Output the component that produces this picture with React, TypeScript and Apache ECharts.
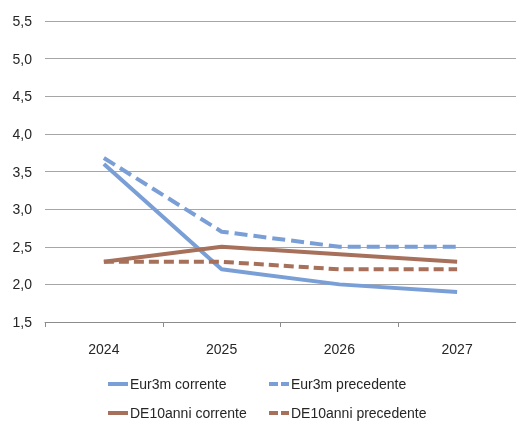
import React, { useEffect, useRef } from "react";
import * as echarts from "echarts";

const categories = ["2024", "2025", "2026", "2027"];
const eur3mCorrente = [3.6, 2.2, 2.0, 1.9];
const eur3mPrecedente = [3.68, 2.7, 2.5, 2.5];
const de10Corrente = [2.3, 2.5, 2.4, 2.3];
const de10Precedente = [2.3, 2.3, 2.2, 2.2];
const seriesNames = ["Eur3m corrente", "Eur3m precedente", "DE10anni corrente", "DE10anni precedente"];

const BLUE = "#7a9fd6";
const BROWN = "#a6705b";
const FONT = "'Liberation Sans', Arial, sans-serif";
const SOLID_ICON = "path://M0,0h20v4h-20z";
const DASH_ICON = "path://M0,0h9v4h-9z M12,0h8v4h-8z";

export default function App() {
  const ref = useRef<HTMLDivElement>(null);
  useEffect(() => {
    if (!ref.current) return;
    const chart = echarts.init(ref.current, undefined, { renderer: "svg" });
    const legendBase = {
      itemWidth: 20,
      itemHeight: 4,
      itemGap: 4,
      textStyle: { fontFamily: FONT, fontSize: 14, color: "#262626", padding: [0, 0, 0, -3] },
      padding: 0,
    };
    chart.setOption({
      animation: false,
      grid: { left: 45, right: 0, top: 21, bottom: 103 },
      legend: [
        { ...legendBase, data: [{ name: seriesNames[0], icon: SOLID_ICON }], left: 108, top: 377 },
        { ...legendBase, data: [{ name: seriesNames[1], icon: DASH_ICON }], left: 269, top: 377 },
        { ...legendBase, data: [{ name: seriesNames[2], icon: SOLID_ICON }], left: 108, top: 406 },
        { ...legendBase, data: [{ name: seriesNames[3], icon: DASH_ICON }], left: 269, top: 406 },
      ],
      xAxis: {
        type: "category",
        data: categories,
        boundaryGap: true,
        axisLine: { lineStyle: { color: "#8c8c8c", width: 1 } },
        axisTick: { show: true, length: 5, lineStyle: { color: "#8c8c8c" } },
        axisLabel: { fontFamily: FONT, fontSize: 14, color: "#262626", margin: 20 },
      },
      yAxis: {
        type: "value",
        min: 1.5,
        max: 5.5,
        interval: 0.5,
        axisLine: { show: false },
        axisTick: { show: false },
        splitLine: { lineStyle: { color: "#a6a6a6", width: 1 } },
        axisLabel: {
          fontFamily: FONT,
          fontSize: 14,
          color: "#262626",
          margin: 13,
          formatter: (v: number) => v.toFixed(1).replace(".", ","),
        },
      },
      series: [
        { name: seriesNames[0], type: "line", data: eur3mCorrente, symbol: "none", lineStyle: { color: BLUE, width: 4 }, itemStyle: { color: BLUE } },
        { name: seriesNames[1], type: "line", data: eur3mPrecedente, symbol: "none", lineStyle: { color: BLUE, width: 4, type: [13, 6] }, itemStyle: { color: BLUE } },
        { name: seriesNames[2], type: "line", data: de10Corrente, symbol: "none", lineStyle: { color: BROWN, width: 4 }, itemStyle: { color: BROWN } },
        { name: seriesNames[3], type: "line", data: de10Precedente, symbol: "none", lineStyle: { color: BROWN, width: 4, type: [10, 5] }, itemStyle: { color: BROWN } },
      ],
    });
    return () => chart.dispose();
  }, []);
  return <div ref={ref} style={{ position: "fixed", left: 0, top: 0, width: 516, height: 425 }} />;
}
